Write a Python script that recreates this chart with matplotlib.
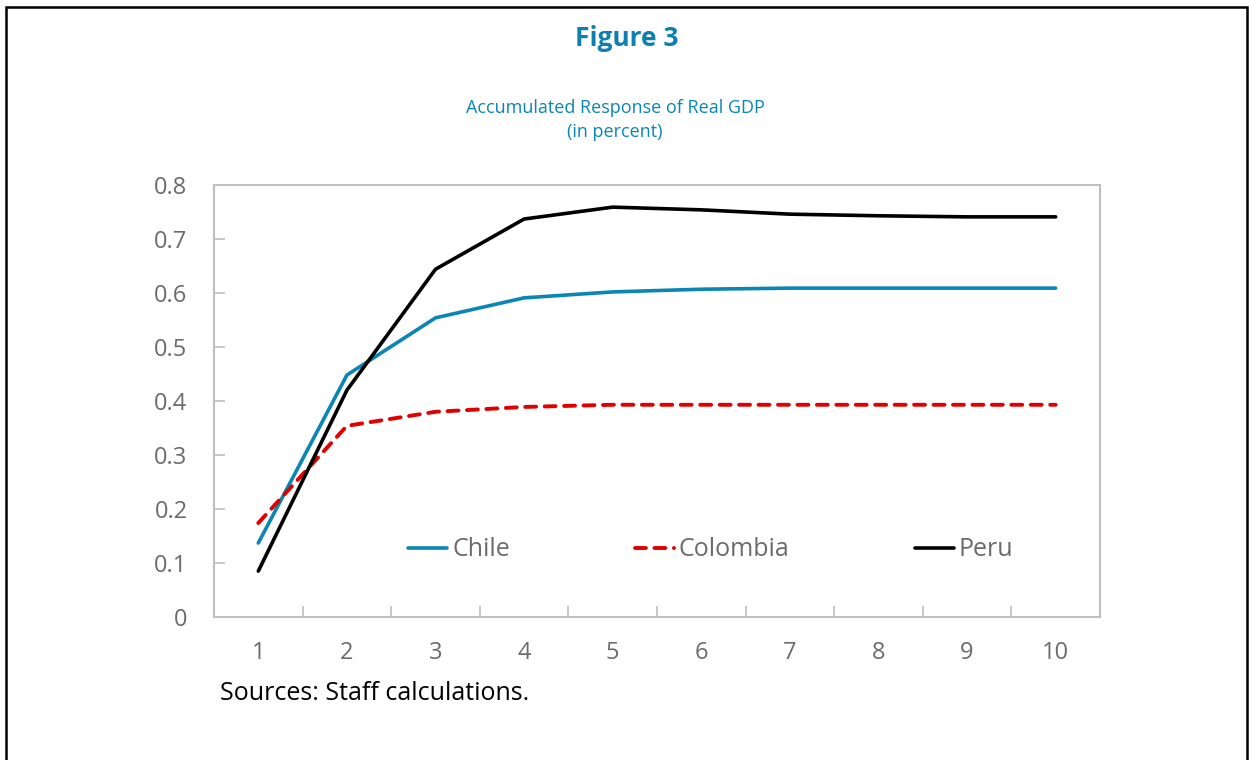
import matplotlib.pyplot as plt
from matplotlib.patches import Rectangle

plt.rcParams['font.family'] = ['Open Sans', 'DejaVu Sans']

periods = [1, 2, 3, 4, 5, 6, 7, 8, 9, 10]
chile = [0.137, 0.448, 0.554, 0.591, 0.602, 0.607, 0.609, 0.609, 0.609, 0.609]
colombia = [0.174, 0.354, 0.380, 0.389, 0.393, 0.393, 0.393, 0.393, 0.393, 0.393]
peru = [0.085, 0.420, 0.644, 0.737, 0.759, 0.754, 0.746, 0.743, 0.741, 0.741]
yticks = [0, 0.1, 0.2, 0.3, 0.4, 0.5, 0.6, 0.7, 0.8]
ylabels = ['0', '0.1', '0.2', '0.3', '0.4', '0.5', '0.6', '0.7', '0.8']

W, H = 1249, 760
blue = '#0A86B4'
grey = '#6B6B6B'
spine = '#BFBFBF'

fig = plt.figure(figsize=(W / 100, H / 100), dpi=100)
ax = fig.add_axes([214 / W, 1 - 617 / H, (1100 - 214) / W, (617 - 185) / H])

ax.plot(periods, chile, color=blue, lw=2.6, label='Chile', solid_capstyle='round')
ax.plot(periods, colombia, color='#E00000', lw=2.8, label='Colombia',
        linestyle=(0, (2.8, 2.2)), dash_capstyle='round')
ax.plot(periods, peru, color='black', lw=2.6, label='Peru', solid_capstyle='round')

ax.set_xlim(0.5, 10.5)
ax.set_ylim(0, 0.8)
ax.set_yticks(yticks)
ax.set_yticklabels(ylabels)
ax.set_xticks(periods)
ax.set_xticks([i + 0.5 for i in periods[:-1]], minor=True)
ax.tick_params(axis='x', which='major', length=0, pad=17, labelsize=17, labelcolor=grey)
ax.tick_params(axis='x', which='minor', length=8, direction='in', color=spine, width=1.2)
ax.tick_params(axis='y', length=8, direction='in', color=spine, width=1.2,
               pad=19, labelsize=17, labelcolor=grey)
for s in ax.spines.values():
    s.set_color(spine)
    s.set_linewidth(1.5)

fig.legend(loc='center left', bbox_to_anchor=(408 / W, 1 - 550 / H), ncol=3,
           frameon=False, fontsize=18, labelcolor=grey, handlelength=1.56,
           handletextpad=0.2, columnspacing=5.0, borderpad=0, borderaxespad=0)

fig.text(627 / W, 1 - 39 / H, 'Figure 3', ha='center', va='center',
         fontsize=19, fontweight='bold', color='#0E7FAF')
fig.text(615 / W, 1 - 120 / H, 'Accumulated Response of Real GDP\n(in percent)',
         ha='center', va='center', fontsize=13, color=blue, linespacing=1.4)
fig.text(220 / W, 1 - 694 / H, 'Sources: Staff calculations.', ha='left',
         va='center', fontsize=18, color='black')

# outer frame
fig.patches.append(Rectangle((6 / W, -0.05), (1247 - 6) / W, 1.05 - 7 / H,
                             transform=fig.transFigure, fill=False,
                             edgecolor='black', lw=1.8, clip_on=False))

fig.savefig('out.png', dpi=100)
